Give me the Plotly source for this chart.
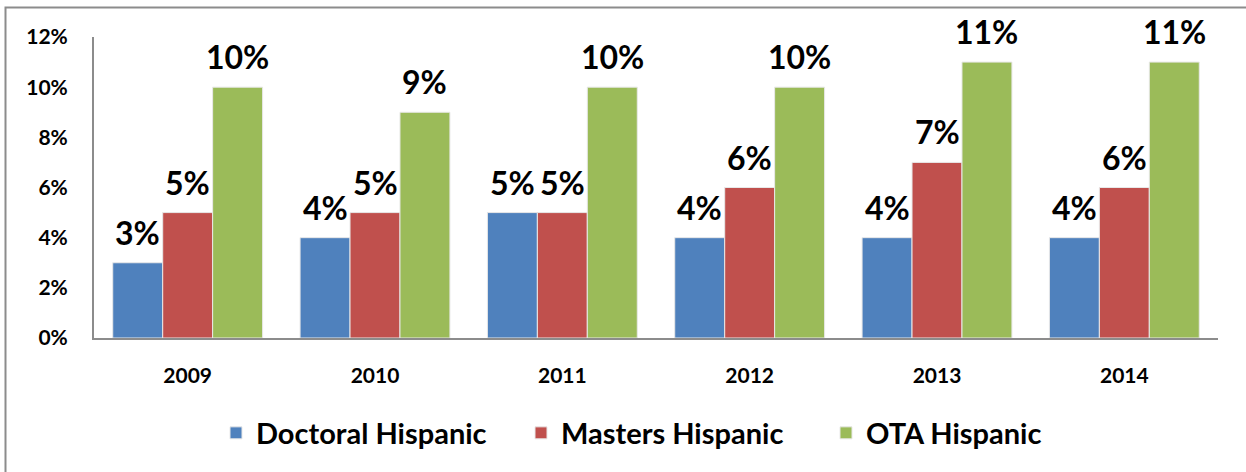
import plotly.graph_objects as go

years = ["2009", "2010", "2011", "2012", "2013", "2014"]
doctoral = [0.03, 0.04, 0.05, 0.04, 0.04, 0.04]
masters = [0.05, 0.05, 0.05, 0.06, 0.07, 0.06]
ota = [0.10, 0.09, 0.10, 0.10, 0.11, 0.11]
series_names = ["Doctoral Hispanic", "Masters Hispanic", "OTA Hispanic"]
colors = ["#4F81BD", "#C0504D", "#9BBB59"]
y_ticks = [0, 0.02, 0.04, 0.06, 0.08, 0.10, 0.12]
y_tick_labels = ["0%", "2%", "4%", "6%", "8%", "10%", "12%"]

W, H = 1246, 472
ML, MR, MT, MB = 94, 28, 37, 134
BARGAP = 0.2
FONT = "Lato"

fig = go.Figure()
all_series = [doctoral, masters, ota]
for name, vals, col in zip(series_names, all_series, colors):
    fig.add_trace(go.Bar(
        x=years, y=vals, name=f"<b>{name}</b>",
        marker=dict(color=col, line=dict(color="#E8E8E8", width=1)),
    ))

plot_w = W - ML - MR
plot_h = H - MT - MB
bar_px = plot_w / len(years) * (1 - BARGAP) / len(all_series)
for i, vals in enumerate(all_series):
    for j, v in enumerate(vals):
        # category index j on the category axis
        fig.add_annotation(
            x=j, y=v, xref="x", yref="y",
            text=f"<b>{round(v*100)}%</b>",
            showarrow=False, yanchor="bottom",
            xshift=(i - 1) * bar_px, yshift=9,
            font=dict(family=FONT, size=32, color="black"),
        )

# outer chart border (top and left visible in reference)
fig.add_shape(
    type="rect", xref="paper", yref="paper",
    x0=(5.5 - ML) / plot_w, x1=(W + 10 - ML) / plot_w,
    y0=(H - MB - (H + 10)) / plot_h, y1=(H - MB - 7.5) / plot_h,
    line=dict(color="#8C8C8C", width=2), fillcolor="rgba(0,0,0,0)", layer="below",
)

fig.update_layout(
    width=W, height=H,
    margin=dict(l=ML, r=MR, t=MT, b=MB, autoexpand=False),
    paper_bgcolor="white", plot_bgcolor="white",
    barmode="group", bargap=BARGAP, bargroupgap=0,
    font=dict(family=FONT, color="black"),
    showlegend=True,
    legend=dict(
        orientation="h", x=(216 - ML) / plot_w, xanchor="left",
        y=(H - MB - 433) / plot_h, yanchor="middle",
        font=dict(family=FONT, size=29, color="black"),
        entrywidth=260, entrywidthmode="pixels",
        traceorder="normal",
    ),
    xaxis=dict(
        type="category", range=[-0.5, len(years) - 0.5],
        tickvals=years, ticktext=[f"<b>{y}</b>" for y in years],
        showline=True, linecolor="#8C8C8C", linewidth=2,
        showgrid=False, ticks="outside", ticklen=18, tickcolor="rgba(0,0,0,0)",
        tickfont=dict(family=FONT, size=21, color="black"),
    ),
    yaxis=dict(
        range=[0, 0.12], tickvals=y_ticks,
        ticktext=[f"<b>{t}</b>" for t in y_tick_labels],
        showline=True, linecolor="#8C8C8C", linewidth=2,
        showgrid=False, zeroline=False,
        ticks="outside", ticklen=20, tickcolor="rgba(0,0,0,0)",
        tickfont=dict(family=FONT, size=21, color="black"),
    ),
)

fig.write_html("out.html", config={"displayModeBar": False},
               post_script="document.body.style.margin='0';")
